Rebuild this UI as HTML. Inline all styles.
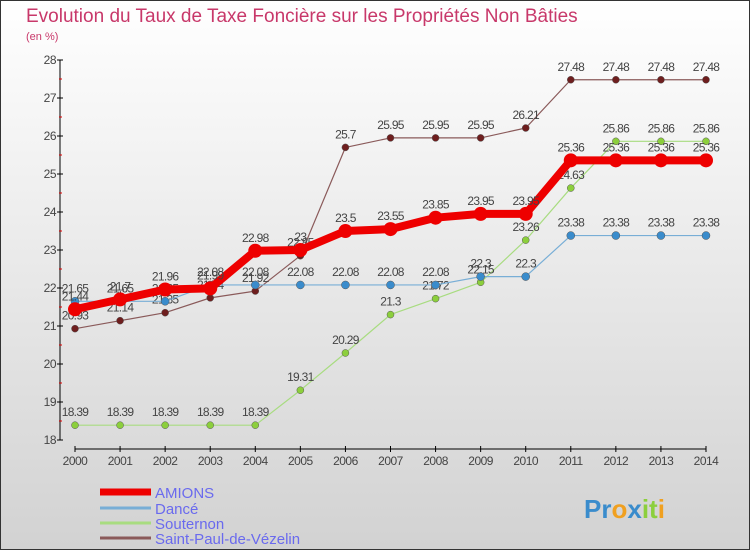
<!DOCTYPE html>
<html><head><meta charset="utf-8"><style>
body{margin:0;width:750px;height:550px;overflow:hidden;font-family:"Liberation Sans",sans-serif}
</style></head><body>
<svg width="750" height="550" id="chart" xmlns="http://www.w3.org/2000/svg">
<defs><linearGradient id="bg" x1="0" y1="0" x2="0" y2="1"><stop offset="0" stop-color="#ffffff"/><stop offset="1" stop-color="#d2d2d2"/></linearGradient></defs>
<rect x="0.5" y="0.5" width="749" height="549" fill="url(#bg)" stroke="#333"/>
<text x="26" y="22" font-size="19" fill="#c8386a">Evolution du Taux de Taxe Foncière sur les Propriétés Non Bâties</text>
<text x="26" y="40" font-size="11" fill="#c8386a">(en %)</text>
<g id="axes"></g><g id="series"></g><g id="legend"></g>
<text x="584" y="518" font-size="26" font-weight="bold"><tspan fill="#3a8ccc">Pr</tspan><tspan fill="#f0a020">o</tspan><tspan fill="#3a8ccc">x</tspan><tspan fill="#8ccf3c">it</tspan><tspan fill="#f0a020">i</tspan></text>
</svg>
<script>
const years=[2000,2001,2002,2003,2004,2005,2006,2007,2008,2009,2010,2011,2012,2013,2014];
const yTicks=[18,19,20,21,22,23,24,25,26,27,28];
const amions=[21.44,21.7,21.96,21.99,22.98,23,23.5,23.55,23.85,23.95,23.95,25.36,25.36,25.36,25.36];
const dance=[21.65,21.65,21.65,22.08,22.08,22.08,22.08,22.08,22.08,22.3,22.3,23.38,23.38,23.38,23.38];
const souternon=[18.39,18.39,18.39,18.39,18.39,19.31,20.29,21.3,21.72,22.15,23.26,24.63,25.86,25.86,25.86];
const stpaul=[20.93,21.14,21.35,21.74,21.92,22.85,25.7,25.95,25.95,25.95,26.21,27.48,27.48,27.48,27.48];
const seriesNames=["AMIONS","Dancé","Souternon","Saint-Paul-de-Vézelin"];
const NS="http://www.w3.org/2000/svg";
const X=i=>75+i*(706-75)/(years.length-1);
const Y=v=>440-(v-18)*38;
function mk(tag,attrs,parent,text){const e=document.createElementNS(NS,tag);for(const k in attrs)e.setAttribute(k,attrs[k]);if(text!==undefined)e.textContent=text;parent.appendChild(e);return e;}
const axes=document.getElementById('axes');
let a=mk('line',{x1:60,y1:Y(28),x2:60,y2:Y(18),stroke:'#000'},axes);

yTicks.forEach(t=>{mk('line',{x1:57,y1:Y(t),x2:63,y2:Y(t),stroke:'#000'},axes);
 if(t<28)mk('line',{x1:59,y1:Y(t+0.5),x2:62,y2:Y(t+0.5),stroke:'#d00'},axes);
 const l=mk('text',{x:56,y:Y(t)+4,'font-size':12,fill:'#444','text-anchor':'end','letter-spacing':'-0.5'},axes,String(t));
 });
a=mk('line',{x1:75,y1:449,x2:706,y2:449,stroke:'#000'},axes);

years.forEach((yr,i)=>{mk('line',{x1:X(i),y1:446,x2:X(i),y2:452,stroke:'#000'},axes);
 const l=mk('text',{x:X(i),y:465,'font-size':12,fill:'#444','text-anchor':'middle','letter-spacing':'-0.5'},axes,String(yr));
 });
const ser=document.getElementById('series');
const defs=[[stpaul,'#6e1e1e','#8a5a5a',1.2,3.5,'saint-paul'],[souternon,'#8ccf3c','#a8dc80',1.2,3.5,'souternon'],[dance,'#3a8ccc','#78aed6',1.2,4,'dance'],[amions,'#ee0000','#ee0000',8,7,'amions']];
defs.forEach(([d,dot,line,w,r,n])=>{
 const pl=mk('polyline',{points:d.map((v,i)=>X(i)+','+Y(v)).join(' '),fill:'none',stroke:line,'stroke-width':w,'stroke-linejoin':'round'},ser);
 
 d.forEach((v,i)=>{const c=mk('circle',{cx:X(i),cy:Y(v),r:r,fill:dot,stroke:n=='amions'?'none':'#555','stroke-width':0.5},ser);
  
  const t=mk('text',{x:X(i),y:Y(v)-9,'font-size':12,fill:'#444','text-anchor':'middle','letter-spacing':'-0.7'},ser,String(v));
  });
});
const leg=document.getElementById('legend');
const lc=['#ee0000','#78aed6','#a8dc80','#8a5a5a'];const lw=[7,3,3,3];const ly=[492,508,523,538];
seriesNames.forEach((s,i)=>{const g=mk('g',{},leg);
 
 mk('line',{x1:100,y1:ly[i],x2:151,y2:ly[i],stroke:lc[i],'stroke-width':lw[i]},g);
 mk('text',{x:155,y:ly[i]+6,'font-size':15,fill:'#6a6aee'},g,s);});
</script>
</body></html>
